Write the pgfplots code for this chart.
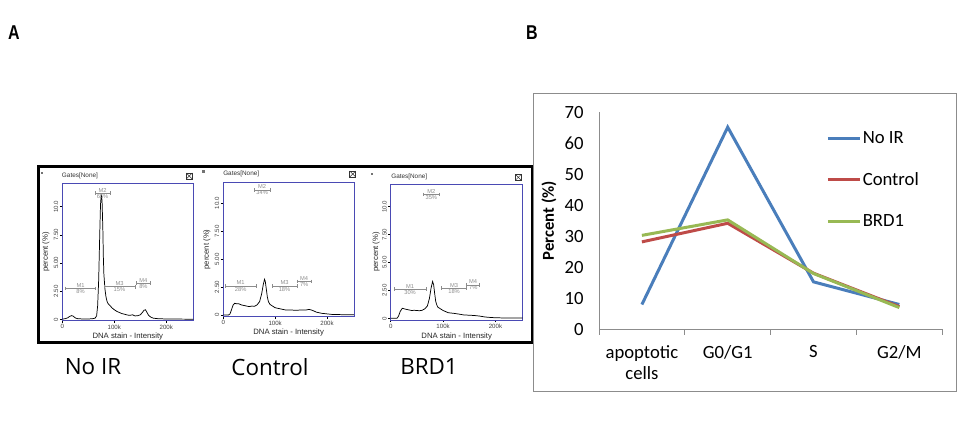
\documentclass[border=0pt]{standalone}
\usepackage{pgfplots}
\pgfplotsset{compat=1.18}
\usepackage{fontspec}
\setmainfont{Carlito}
\newfontfamily\osans{Open Sans}
\newfontfamily\lsans{Liberation Sans}
\definecolor{cBlue}{HTML}{4A7EBB}
\definecolor{cRed}{HTML}{BE4B48}
\definecolor{cGreen}{HTML}{98B954}
\definecolor{fcsblue}{HTML}{4A4AB4}
\definecolor{mgray}{HTML}{8C8C8C}

\pgfplotsset{
  fcs/.style={
    scale only axis, clip=false,
    xmin=0, xmax=252,
    axis line style={fcsblue, line width=0.6pt},
    xtick={0,100,200}, xticklabels={0,100k,200k},
    ytick={0,2.5,5,7.5,10}, yticklabels={0,2.50,5.00,7.50,10.0},
    tick style={black, line width=0.4pt}, major tick length=1.8pt,
    tick align=outside, tick pos=left,
    /pgf/number format/assume math mode=true,
    ticklabel style={font=\lsans\fontsize{4.6}{5}\selectfont, text=black!75, inner sep=1pt},
    y tick label style={rotate=90, anchor=south},
    xlabel={DNA stain - Intensity}, ylabel={percent (\%)},
    label style={font=\lsans\fontsize{5.8}{6.5}\selectfont, text=black!85},
  },
  mk/.style={mgray, line width=0.4pt, mark=|, mark size=1.4pt, mark options={solid, line width=0.4pt}},
}
\tikzset{mklab/.style={mgray, font=\lsans\fontsize{4.3}{5}\selectfont, inner sep=0.6pt}}

\begin{document}
\begin{tikzpicture}[x=0.75pt,y=-0.75pt]
\useasboundingbox (0,0) rectangle (963,427);

% panel letters
\node[font=\lsans\bfseries\fontsize{15}{18}\selectfont, xscale=0.8, transform shape] at (14,33) {A};
\node[font=\lsans\bfseries\fontsize{15}{18}\selectfont, xscale=0.8, transform shape] at (532,33) {B};

% ================= Panel A =================
% --- No IR
\begin{axis}[fcs, at={({62.3*0.75pt},{-320.7*0.75pt})}, anchor=south west, width=98.25pt, height=103.05pt,
  ymin=-0.124, ymax=12.08,
  xlabel style={at={(axis description cs:0.5,-0.116)}, anchor=center},
  ylabel style={at={(axis description cs:-0.125,0.5)}, anchor=center}]
\addplot[black, line width=0.55pt] coordinates {
(0,0.02)(5,0.05)(10,0.12)(14,0.25)(18,0.33)(21,0.28)(25,0.12)(30,0.05)(40,0.03)(50,0.03)(58,0.05)(63,0.1)(66,0.3)(68,1.2)(70,3.5)(72,7.5)(73.5,10.2)(75,11.1)(76.5,10.5)(78,8)(79,5.5)(80,4)(82,2.7)(84,2)(86,1.6)(88,1.4)(92,1.2)(96,1.0)(100,0.85)(105,0.7)(110,0.6)(115,0.5)(120,0.45)(125,0.38)(130,0.35)(135,0.4)(140,0.3)(145,0.32)(150,0.4)(154,0.6)(157,0.8)(160,0.85)(163,0.6)(166,0.35)(170,0.2)(175,0.1)(185,0.05)(200,0.03)(220,0.02)(252,0.01)};
\addplot[mk] coordinates {(6.5,2.74)(64,2.74)};
\addplot[mk] coordinates {(63,11.2)(92,11.2)};
\addplot[mk] coordinates {(80,2.9)(140,2.9)};
\addplot[mk] coordinates {(143,3.2)(169,3.2)};
\node[mklab, above] at (axis cs:35,2.74) {M1};
\node[mklab, below] at (axis cs:35,2.74) {8\%};
\node[mklab, above] at (axis cs:77.5,11.2) {M2};
\node[mklab, below] at (axis cs:77.5,11.2) {65\%};
\node[mklab, above] at (axis cs:110,2.9) {M3};
\node[mklab, below] at (axis cs:110,2.9) {15\%};
\node[mklab, above] at (axis cs:156,3.2) {M4};
\node[mklab, below] at (axis cs:156,3.2) {8\%};
\end{axis}

% --- Control
\begin{axis}[fcs, at={({223.3*0.75pt},{-316.7*0.75pt})}, anchor=south west, width=98pt, height=100.8pt,
  ymin=-0.152, ymax=11.88,
  xlabel style={at={(axis description cs:0.5,-0.118)}, anchor=center},
  ylabel style={at={(axis description cs:-0.125,0.5)}, anchor=center}]
\addplot[black, line width=0.55pt] coordinates {
(0,0)(10,0.0)(13,0.1)(16,0.5)(19,0.9)(22,1.05)(26,1.0)(30,1.0)(35,0.9)(40,0.85)(45,0.8)(50,0.75)(55,0.8)(60,0.78)(65,0.9)(70,1.2)(74,1.9)(77,2.7)(79.5,3.2)(81,3.0)(83,2.3)(85,1.6)(87,1.2)(90,0.95)(95,0.8)(100,0.65)(105,0.6)(110,0.55)(115,0.5)(120,0.45)(130,0.45)(140,0.42)(150,0.45)(160,0.45)(165,0.5)(170,0.45)(175,0.35)(180,0.25)(190,0.15)(200,0.1)(210,0.05)(230,0.03)(252,0.02)};
\addplot[mk] coordinates {(4,2.6)(63,2.6)};
\addplot[mk] coordinates {(60,11.2)(90,11.2)};
\addplot[mk] coordinates {(94,2.6)(142,2.6)};
\addplot[mk] coordinates {(142,3.0)(170,3.0)};
\node[mklab, above] at (axis cs:33.5,2.6) {M1};
\node[mklab, below] at (axis cs:33.5,2.6) {28\%};
\node[mklab, above] at (axis cs:75,11.2) {M2};
\node[mklab, below] at (axis cs:75,11.2) {34\%};
\node[mklab, above] at (axis cs:118,2.6) {M3};
\node[mklab, below] at (axis cs:118,2.6) {18\%};
\node[mklab, above] at (axis cs:156,3.0) {M4};
\node[mklab, below] at (axis cs:156,3.0) {7\%};
\end{axis}

% --- BRD1
\begin{axis}[fcs, at={({390.7*0.75pt},{-320*0.75pt})}, anchor=south west, width=99pt, height=102pt,
  ymin=-0.15, ymax=12.03,
  xlabel style={at={(axis description cs:0.5,-0.12)}, anchor=center},
  ylabel style={at={(axis description cs:-0.11,0.5)}, anchor=center}]
\addplot[black, line width=0.55pt] coordinates {
(0,0)(12,0.0)(15,0.2)(18,0.6)(22,0.9)(26,0.85)(30,0.8)(35,0.75)(40,0.7)(45,0.72)(50,0.7)(55,0.68)(60,0.72)(65,0.85)(70,1.1)(74,1.8)(77,2.7)(80,3.3)(82,3.0)(84,2.2)(86,1.5)(88,1.2)(90,1.0)(95,0.85)(100,0.7)(105,0.6)(110,0.5)(120,0.45)(130,0.38)(140,0.3)(150,0.28)(160,0.25)(170,0.2)(180,0.12)(190,0.08)(200,0.05)(220,0.03)(252,0.02)};
\addplot[mk] coordinates {(7,2.6)(67,2.6)};
\addplot[mk] coordinates {(62,11.1)(93,11.1)};
\addplot[mk] coordinates {(97,2.7)(145,2.7)};
\addplot[mk] coordinates {(145,3.0)(170,3.0)};
\node[mklab, above] at (axis cs:37,2.6) {M1};
\node[mklab, below] at (axis cs:37,2.6) {30\%};
\node[mklab, above] at (axis cs:77.5,11.1) {M2};
\node[mklab, below] at (axis cs:77.5,11.1) {35\%};
\node[mklab, above] at (axis cs:121,2.7) {M3};
\node[mklab, below] at (axis cs:121,2.7) {18\%};
\node[mklab, above] at (axis cs:157.5,3.0) {M4};
\node[mklab, below] at (axis cs:157.5,3.0) {7\%};
\end{axis}

% panel decorations
\foreach \sx/\sy/\gx/\gy/\bx/\by in {41.7/173.3/61.7/176/189.3/176, 203.3/171.7/223/174/352.7/174, 371.7/174/391/176.7/518.3/177.3}{
  \fill[black!55] (\sx-1.2,\sy-1.2) rectangle (\sx+1.2,\sy+1.2);
  \node[anchor=west, inner sep=0pt, font=\lsans\fontsize{4.8}{5}\selectfont, text=black!80] at (\gx,\gy) {Gates[None]};
  \draw[black!80, line width=0.4pt] (\bx-3,\by-3) rectangle (\bx+3,\by+3);
  \draw[black!80, line width=0.35pt] (\bx-3,\by-3) -- (\bx+3,\by+3) (\bx-3,\by+3) -- (\bx+3,\by-3);
}

% outer black frame
\draw[black, line width=2.25pt] (38.3,166.7) rectangle (532.7,342.7);

% labels below
\node[font=\osans\fontsize{16.8}{19}\selectfont] at (93,366.7) {No IR};
\node[font=\osans\fontsize{16.8}{19}\selectfont] at (270,366.7) {Control};
\node[font=\osans\fontsize{16.8}{19}\selectfont] at (429,366.7) {BRD1};

% ================= Panel B =================
\draw[black!45, line width=0.75pt] (533,94) rectangle (956.7,391.7);

\begin{axis}[at={({599*0.75pt},{-329.3*0.75pt})}, anchor=south west, scale only axis,
  width=257.4pt, height=162.75pt,
  xmin=-0.5, xmax=3.5, ymin=0, ymax=70,
  axis lines=left, axis line style={-, draw=black!45, line width=0.6pt},
  /pgf/number format/assume math mode=true,
  xtick={0,1,2,3}, xticklabels={{apoptotic\\cells},G0/G1,S,G2/M},
  minor xtick={-0.5,0.5,1.5,2.5,3.5},
  major tick length=0pt, minor tick length=4pt, tick align=outside,
  minor tick style={draw=black!45, line width=0.6pt},
  ytick={0,10,20,30,40,50,60,70},
  x tick label style={align=center, font=\fontsize{14}{16}\selectfont, yshift=-8.5pt},
  y tick label style={font=\fontsize{14}{16.5}\selectfont, xshift=-8pt},
  ylabel={Percent (\%)},
  ylabel style={font=\bfseries\fontsize{12.5}{14}\selectfont, at={(axis description cs:-0.1457,0.5)}, anchor=center},
  legend style={draw=none, fill=none, at={(axis description cs:0.662,0.688)}, anchor=west,
    font=\fontsize{14}{16.5}\selectfont, row sep=18.3pt, inner sep=0pt, nodes={inner sep=1pt}},
  legend cell align=left,
  legend image code/.code={\draw[#1, line width=2.25pt] (0pt,0pt) -- (24pt,0pt);},
]
\addplot[cBlue, line width=2.25pt] coordinates {(0,8)(1,65.2)(2,15.3)(3,8)};
\addplot[cRed, line width=2.25pt] coordinates {(0,28.2)(1,34.2)(2,18.1)(3,7.3)};
\addplot[cGreen, line width=2.25pt] coordinates {(0,30.3)(1,35.3)(2,18)(3,7)};
\legend{No IR, Control, BRD1}
\end{axis}
\end{tikzpicture}
\end{document}
